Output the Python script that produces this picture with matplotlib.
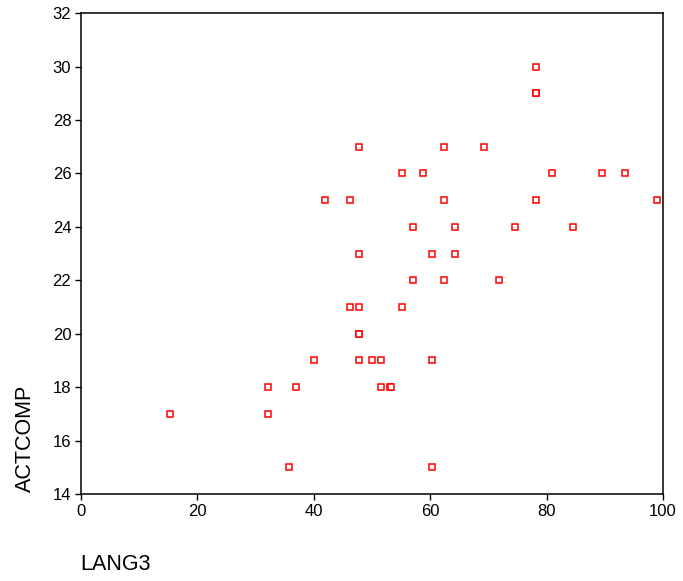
import matplotlib
matplotlib.use("Agg")
import matplotlib.pyplot as plt

plt.rcParams['font.family'] = ['Liberation Sans', 'DejaVu Sans']

lang3 = [15.3, 32.1, 32.1, 35.7, 37.0, 40.1, 41.9, 46.2, 46.2,
         47.8, 47.8, 47.8, 47.8, 47.8, 47.8, 50.0, 51.6, 51.6, 53.1, 53.3,
         55.2, 55.2, 57.0, 57.0, 58.8, 60.3, 60.3, 60.3, 62.4, 62.4, 62.4,
         64.2, 64.2, 69.2, 71.9, 74.6, 78.2, 78.2, 78.2, 78.2, 81.0, 84.6,
         89.5, 93.4, 99.0]
actcomp = [17, 18, 17, 15, 18, 19, 25, 25, 21,
           27, 23, 21, 20, 20, 19, 19, 19, 18, 18, 18,
           26, 21, 24, 22, 26, 23, 19, 15, 27, 25, 22,
           24, 23, 27, 22, 24, 30, 29, 29, 25, 26, 24,
           26, 26, 25]

xticks = [0, 20, 40, 60, 80, 100]
yticks = [14, 16, 18, 20, 22, 24, 26, 28, 30, 32]

fig = plt.figure(figsize=(6.83, 5.81), dpi=100)
ax = fig.add_axes([81/683, 1-494/581, (663-81)/683, (494-13.2)/581])
ax.plot(lang3, actcomp, linestyle='none', marker='s', markersize=5,
        markerfacecolor='white', markeredgecolor='#ff0000', markeredgewidth=1.1)
ax.set_xlim(0, 100)
ax.set_ylim(14, 32)
ax.set_xticks(xticks)
ax.set_yticks(yticks)
ax.tick_params(direction='out', length=4.5, width=1, labelsize=12, pad=2.5)
for s in ax.spines.values():
    s.set_linewidth(1.1)
fig.text(25/683, 1-492/581, 'ACTCOMP', rotation=90, fontsize=15.5,
         ha='center', va='bottom')
fig.text(80/683, 1-564.5/581, 'LANG3', fontsize=15.5, ha='left', va='center')
fig.savefig('out.png', dpi=100)
